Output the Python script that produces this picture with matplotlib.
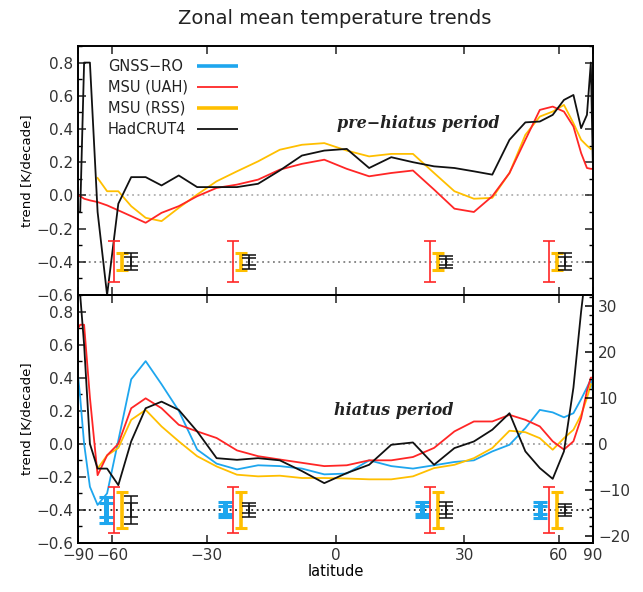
import numpy as np
import matplotlib
matplotlib.use("Agg")
import matplotlib.pyplot as plt
from matplotlib.ticker import MultipleLocator

# latitude bins (5 degree)
lat = [-87.5, -82.5, -77.5, -72.5, -67.5, -62.5, -57.5, -52.5, -47.5, -42.5,
       -37.5, -32.5, -27.5, -22.5, -17.5, -12.5, -7.5, -2.5, 2.5, 7.5,
       12.5, 17.5, 22.5, 27.5, 32.5, 37.5, 42.5, 47.5, 52.5, 57.5,
       62.5, 67.5, 72.5, 77.5, 82.5, 87.5]
nan = np.nan

# pre-hiatus period
uah_pre = [0.0, -0.005, -0.02, -0.03, -0.04, -0.06, -0.09, -0.125, -0.165, -0.105,
           -0.065, -0.005, 0.045, 0.065, 0.095, 0.155, 0.19, 0.215, 0.16, 0.115,
           0.135, 0.15, 0.035, -0.08, -0.10, -0.005, 0.135, 0.335, 0.515, 0.535,
           0.505, 0.415, 0.255, 0.165, 0.16, 0.16]
rss_pre = [nan, nan, nan, nan, 0.105, 0.025, 0.025, -0.065, -0.135, -0.155,
           -0.075, 0.005, 0.085, 0.145, 0.205, 0.275, 0.305, 0.315, 0.27, 0.235,
           0.25, 0.25, 0.135, 0.025, -0.02, -0.015, 0.135, 0.365, 0.475, 0.505,
           0.545, 0.435, 0.335, 0.30, 0.28, nan]
had_pre = [-0.10, -0.10, 0.80, 0.80, -0.10, -0.60, -0.05, 0.11, 0.11, 0.06,
           0.12, 0.05, 0.05, 0.05, 0.07, 0.15, 0.24, 0.27, 0.28, 0.165,
           0.23, 0.20, 0.175, 0.165, 0.145, 0.125, 0.335, 0.44, 0.445, 0.485,
           0.575, 0.605, 0.405, 0.485, 0.80, 0.20]

# hiatus period
gnss_hia = [0.40, 0.28, 0.0, -0.26, -0.37, -0.30, 0.02, 0.39, 0.50, 0.36,
            0.20, -0.035, -0.12, -0.155, -0.13, -0.135, -0.15, -0.185, -0.18, -0.10,
            -0.135, -0.15, -0.13, -0.11, -0.10, -0.046, -0.006, 0.095, 0.205, 0.19,
            0.16, 0.185, 0.27, 0.34, 0.39, 0.32]
uah_hia = [0.70, 0.72, 0.72, 0.28, -0.19, -0.07, 0.0, 0.215, 0.275, 0.215,
           0.115, 0.075, 0.035, -0.04, -0.075, -0.095, -0.115, -0.135, -0.13, -0.10,
           -0.10, -0.08, -0.025, 0.075, 0.135, 0.135, 0.175, 0.145, 0.105, 0.015,
           -0.035, 0.015, 0.155, 0.32, 0.40, 0.40]
rss_hia = [nan, nan, nan, nan, -0.15, -0.07, -0.025, 0.145, 0.205, 0.105,
           0.015, -0.075, -0.137, -0.187, -0.197, -0.193, -0.207, -0.207, -0.21, -0.215,
           -0.215, -0.197, -0.147, -0.127, -0.087, -0.026, 0.079, 0.07, 0.034, -0.036,
           0.034, 0.085, 0.175, 0.276, 0.36, nan]
had_hia = [0.95, 0.90, 0.60, 0.0, -0.15, -0.15, -0.25, 0.015, 0.215, 0.255,
           0.205, 0.075, -0.087, -0.097, -0.087, -0.10, -0.165, -0.238, -0.177, -0.127,
           -0.006, 0.008, -0.127, -0.026, 0.014, 0.085, 0.185, -0.046, -0.147, -0.212,
           -0.046, 0.34, 0.80, 1.10, 1.10, 1.10]

# error bars (plotted around -0.4)
eb_centres = [-57.5, -22.5, 22.5, 57.5]
eb_uah_pre = [0.123, 0.123, 0.123, 0.123]
eb_rss_pre = [0.05, 0.052, 0.052, 0.052]
eb_had_pre = [0.052, 0.043, 0.037, 0.052]
eb_gnss_hia = [0.08, 0.045, 0.045, 0.05]
eb_uah_hia = [0.14, 0.14, 0.14, 0.14]
eb_rss_hia = [0.11, 0.11, 0.11, 0.11]
eb_had_hia = [0.085, 0.043, 0.05, 0.035]

legend_labels = ['GNSS\u2212RO', 'MSU (UAH)', 'MSU (RSS)', 'HadCRUT4']

C_BLUE = '#1ea6ee'
C_RED = '#ff2626'
C_YEL = '#ffbf00'
C_BLK = '#111111'

plt.rcParams['font.family'] = 'DejaVu Sans'
plt.rcParams['text.color'] = '#222222'


def fwd(x):
    return np.sin(np.deg2rad(x))


def inv(y):
    return np.rad2deg(np.arcsin(np.clip(y, -1, 1)))


def eb_x(shift):
    # small offset in sin(lat) space around each group centre
    return inv(fwd(np.array(eb_centres)) + shift * 0.032)


def style_axes(ax):
    ax.set_xscale('function', functions=(fwd, inv))
    ax.set_xlim(-90, 90)
    ax.set_ylim(-0.6, 0.9)
    ax.set_xticks([-90, -60, -30, 0, 30, 60, 90])
    ax.yaxis.set_major_locator(MultipleLocator(0.2))
    ax.yaxis.set_minor_locator(MultipleLocator(0.1))
    ax.tick_params(direction='in', top=True, right=True, length=6, width=1.1,
                   labelsize=11, colors='#222222', labelcolor='#333333')
    ax.tick_params(which='minor', direction='in', right=True, length=3, width=1.0)
    ax.tick_params(axis='x', which='minor', bottom=False, top=False)
    for s in ax.spines.values():
        s.set_linewidth(1.4)
    ax.set_ylabel('trend [K/decade]', fontsize=9.5, labelpad=2)


def errbar(ax, x, err, color, lw, cap, inner=False):
    y = np.full(len(x), -0.4)
    ax.errorbar(x, y, yerr=err, fmt='none', ecolor=color, elinewidth=lw,
                capsize=cap, capthick=min(lw, 2.2), zorder=5)
    if inner:
        ax.errorbar(x, y, yerr=np.array(err) * 0.5, fmt='none', ecolor=color,
                    elinewidth=lw, capsize=cap, capthick=min(lw, 2.2), zorder=5)


fig = plt.figure(figsize=(6.43, 5.92), dpi=100)
ax1 = fig.add_axes([0.1213, 0.5017, 0.801, 0.4206])
ax2 = fig.add_axes([0.1213, 0.0828, 0.801, 0.4189])

# ---- top panel
style_axes(ax1)
ax1.tick_params(labelbottom=False)
ax1.axhline(0, color='#b0b0b0', ls=(0, (1, 2)), lw=1.3, zorder=1)
ax1.axhline(-0.4, color='#808080', ls=(0, (1, 2)), lw=1.3, zorder=1)
ax1.plot(lat, rss_pre, color=C_YEL, lw=1.3)
ax1.plot(lat, uah_pre, color=C_RED, lw=1.3)
ax1.plot(lat, had_pre, color=C_BLK, lw=1.3)
errbar(ax1, eb_x(-0.5), eb_uah_pre, C_RED, 1.2, 4)
errbar(ax1, eb_x(0.5), eb_rss_pre, C_YEL, 2.6, 4.5)
errbar(ax1, eb_x(1.5), eb_had_pre, C_BLK, 1.1, 5, inner=True)
ax1.text(0.66, 0.69, 'pre\u2212hiatus period', transform=ax1.transAxes, ha='center',
         va='center', fontsize=11.5, family='DejaVu Serif', style='italic', weight='bold')

# legend: text left-aligned, line sample to the right
leg_colors = [C_BLUE, C_RED, C_YEL, C_BLK]
leg_lw = [2.6, 1.3, 2.6, 1.3]
for i in range(4):
    yy = 0.918 - i * 0.084
    ax1.text(0.058, yy, legend_labels[i], transform=ax1.transAxes, ha='left',
             va='center', fontsize=10.5, color='#222222')
    ax1.plot([0.231, 0.311], [yy, yy], transform=ax1.transAxes, color=leg_colors[i],
             lw=leg_lw[i], solid_capstyle='butt')

# ---- bottom panel
style_axes(ax2)
ax2.tick_params(right=False, which='both')
ax2.set_xticklabels(['\u221290', '\u221260', '\u221230', '0', '30', '60', '90'])
ax2.axhline(0, color='#a0a0a0', ls=(0, (1, 2)), lw=1.3, zorder=1)
ax2.axhline(-0.4, color='#222222', ls=(0, (1, 2)), lw=1.3, zorder=1)
ax2.plot(lat, gnss_hia, color=C_BLUE, lw=1.3)
ax2.plot(lat, rss_hia, color=C_YEL, lw=1.3)
ax2.plot(lat, uah_hia, color=C_RED, lw=1.3)
ax2.plot(lat, had_hia, color=C_BLK, lw=1.3)
errbar(ax2, eb_x(-1.5), eb_gnss_hia, C_BLUE, 3.6, 5, inner=True)
errbar(ax2, eb_x(-0.5), eb_uah_hia, C_RED, 1.2, 4)
errbar(ax2, eb_x(0.5), eb_rss_hia, C_YEL, 2.6, 4.5)
errbar(ax2, eb_x(1.5), eb_had_hia, C_BLK, 1.1, 5, inner=True)
ax2.text(0.614, 0.536, 'hiatus period', transform=ax2.transAxes, ha='center',
         va='center', fontsize=11.5, family='DejaVu Serif', style='italic', weight='bold')
ax2.set_xlabel('latitude', fontsize=10.5, labelpad=1)

axr = ax2.twinx()
axr.set_ylim(-0.6 * 36, 0.9 * 36)
axr.yaxis.set_major_locator(MultipleLocator(10))
axr.yaxis.set_minor_locator(MultipleLocator(2))
axr.tick_params(direction='in', length=6, width=1.1, labelsize=11, labelcolor='#333333')
axr.tick_params(which='minor', direction='in', length=3, width=1.0)
for s in axr.spines.values():
    s.set_linewidth(1.4)

fig.text(0.521, 0.968, 'Zonal mean temperature trends', ha='center', va='center',
         fontsize=14, color='#222222')

fig.savefig('out.png', dpi=100)
